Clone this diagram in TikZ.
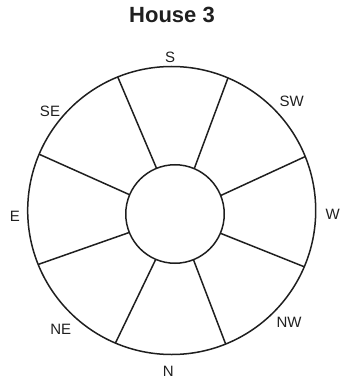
\documentclass[tikz,border=0pt]{standalone}
\usepackage{fontspec}
\setmainfont{Liberation Sans}
\colorlet{ink}{black!88}

\begin{document}
\begin{tikzpicture}[x=1pt, y=-1pt,
    ring/.style={circle, draw=ink, line width=1.5pt, inner sep=0pt, outer sep=0pt},
    spoke/.style={draw=ink, line width=1.5pt},
    lbl/.style={font=\fontsize{15}{15}\selectfont, text=ink, inner sep=0pt}]
        \useasboundingbox (0,0) rectangle (342,379);
        \node[font=\fontsize{22}{22}\selectfont\bfseries, text=ink] (title) at (172,15){House 3};
        \node[ring, minimum size=288pt] (outer) at (171.7,210.5){};
        \node[ring, minimum size=98.5pt] (inner) at (175,214){};
        \foreach \a in {22.5,67.5,...,337.5}
              \draw[spoke](inner.\a)--(outer.\a);
        \node[lbl] (S)  at (170,57.5){S};
        \node[lbl] (SW) at (291.7,101){SW};
        \node[lbl] (W)  at (332.7,214.5){W};
        \node[lbl] (NW) at (289,322.5){NW};
        \node[lbl] (N)  at (168.3,371.5){N};
        \node[lbl] (NE) at (60.7,329){NE};
        \node[lbl] (E)  at (15,216.5){E};
        \node[lbl] (SE) at (50,111){SE};
      \end{tikzpicture}
\end{document}
